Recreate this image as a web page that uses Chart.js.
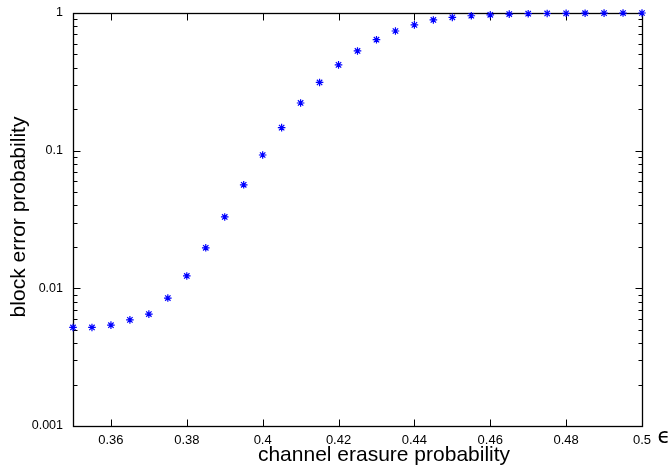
<!DOCTYPE html>
<html>
<head>
<meta charset="utf-8">
<script src="https://cdn.jsdelivr.net/npm/chart.js@4.4.0/dist/chart.umd.min.js"></script>
<style>
  html, body { margin: 0; padding: 0; background: #fff; }
  #chart { display: block; }
</style>
</head>
<body>
<canvas id="chart" width="672" height="467"></canvas>
<script>
// channel erasure probability vs block error probability
const erasure = [0.35, 0.355, 0.36, 0.365, 0.37, 0.375, 0.38, 0.385, 0.39, 0.395,
                 0.40, 0.405, 0.41, 0.415, 0.42, 0.425, 0.43, 0.435, 0.44, 0.445,
                 0.45, 0.455, 0.46, 0.465, 0.47, 0.475, 0.48, 0.485, 0.49, 0.495, 0.50];
const blockError = [0.0052, 0.0052, 0.0054, 0.0059, 0.0065, 0.0085, 0.0123, 0.0197, 0.033, 0.0565,
                    0.093, 0.147, 0.222, 0.313, 0.42, 0.53, 0.64, 0.74, 0.82, 0.89,
                    0.93, 0.955, 0.97, 0.982, 0.988, 0.992, 0.995, 0.997, 0.998, 0.999, 1.0];

const xTickValues = [0.36, 0.38, 0.40, 0.42, 0.44, 0.46, 0.48, 0.50];
const xTickLabels = ['0.36', '0.38', '0.4', '0.42', '0.44', '0.46', '0.48', '0.5'];
const yMajorValues = [0.001, 0.01, 0.1, 1];
const yMajorLabels = ['0.001', '0.01', '0.1', '1'];
const yMinorValues = [0.002, 0.003, 0.004, 0.005, 0.006, 0.007, 0.008, 0.009,
                      0.02, 0.03, 0.04, 0.05, 0.06, 0.07, 0.08, 0.09,
                      0.2, 0.3, 0.4, 0.5, 0.6, 0.7, 0.8, 0.9];

const xTitle = 'channel erasure probability';
const yTitle = 'block error probability';
const epsLabel = '\u03F5';

const points = erasure.map((e, i) => ({ x: e, y: blockError[i] }));

// frame + inward tick marks on all four sides, like gnuplot
const framePlugin = {
    id: 'frame',
    beforeDatasetsDraw(chart) {
        const ctx = chart.ctx;
        const a = chart.chartArea;
        const xs = chart.scales.x;
        const ys = chart.scales.y;
        const L = Math.round(a.left) + 0.5, R = Math.round(a.right) + 0.5;
        const T = Math.round(a.top) + 0.5, B = Math.round(a.bottom) + 0.5;
        ctx.save();
        ctx.strokeStyle = '#000';
        ctx.lineWidth = 1;
        ctx.beginPath();
        xTickValues.forEach(v => {
            const px = Math.round(xs.getPixelForValue(v)) + 0.5;
            ctx.moveTo(px, B); ctx.lineTo(px, B - 7);
            ctx.moveTo(px, T); ctx.lineTo(px, T + 7);
        });
        yMajorValues.forEach(v => {
            const py = Math.round(ys.getPixelForValue(v)) + 0.5;
            ctx.moveTo(L, py); ctx.lineTo(L + 7, py);
            ctx.moveTo(R, py); ctx.lineTo(R - 7, py);
        });
        yMinorValues.forEach(v => {
            const py = Math.round(ys.getPixelForValue(v)) + 0.5;
            ctx.moveTo(L, py); ctx.lineTo(L + 4, py);
            ctx.moveTo(R, py); ctx.lineTo(R - 4, py);
        });
        ctx.stroke();
        ctx.lineWidth = 1.3;
        ctx.strokeRect(L, T, R - L, B - T);
        ctx.restore();
    },
    afterDraw(chart) {
        const ctx = chart.ctx;
        ctx.save();
        ctx.fillStyle = '#000';
        ctx.textAlign = 'center';
        ctx.textBaseline = 'middle';
        ctx.font = '21px "Liberation Sans", Arial, sans-serif';
        ctx.fillText(xTitle, 384, 455);
        ctx.translate(19, 217);
        ctx.rotate(-Math.PI / 2);
        ctx.fillText(yTitle, 0, 0);
        ctx.restore();
        ctx.save();
        ctx.fillStyle = '#000';
        ctx.textAlign = 'center';
        ctx.textBaseline = 'alphabetic';
        ctx.font = '21px "DejaVu Sans", sans-serif';
        ctx.fillText(epsLabel, 664, 443);
        ctx.restore();
    }
};

new Chart(document.getElementById('chart'), {
    type: 'scatter',
    data: {
        datasets: [{
            data: points,
            pointStyle: 'star',
            radius: 3.8,
            borderColor: '#0000ff',
            backgroundColor: '#0000ff',
            borderWidth: 1.2,
            clip: false
        }]
    },
    options: {
        responsive: false,
        animation: false,
        devicePixelRatio: 1,
        layout: { padding: { top: 13, right: 30, left: 0, bottom: 0 } },
        plugins: {
            legend: { display: false },
            tooltip: { enabled: false }
        },
        scales: {
            x: {
                type: 'linear',
                min: 0.35,
                max: 0.5,
                border: { display: false },
                grid: { display: false, drawTicks: false },
                afterBuildTicks: s => { s.ticks = xTickValues.map(v => ({ value: v })); },
                afterFit: s => { s.height = 41; s.paddingLeft = 0; s.paddingRight = 0; },
                ticks: {
                    autoSkip: false,
                    maxRotation: 0,
                    padding: 7,
                    color: '#000',
                    font: { family: '"Liberation Sans", Arial, sans-serif', size: 13 },
                    callback: v => {
                        const i = xTickValues.findIndex(t => Math.abs(t - v) < 1e-9);
                        return i >= 0 ? xTickLabels[i] : '';
                    }
                }
            },
            y: {
                type: 'logarithmic',
                min: 0.001,
                max: 1,
                border: { display: false },
                grid: { display: false, drawTicks: false },
                afterBuildTicks: s => { s.ticks = yMajorValues.map(v => ({ value: v })); },
                afterFit: s => { s.width = 73; s.paddingTop = 0; s.paddingBottom = 0; },
                ticks: {
                    autoSkip: false,
                    padding: 10,
                    color: '#000',
                    font: { family: '"Liberation Sans", Arial, sans-serif', size: 12.5 },
                    callback: v => {
                        const i = yMajorValues.findIndex(t => Math.abs(t - v) / t < 1e-6);
                        return i >= 0 ? yMajorLabels[i] : '';
                    }
                }
            }
        }
    },
    plugins: [framePlugin]
});
</script>
</body>
</html>
